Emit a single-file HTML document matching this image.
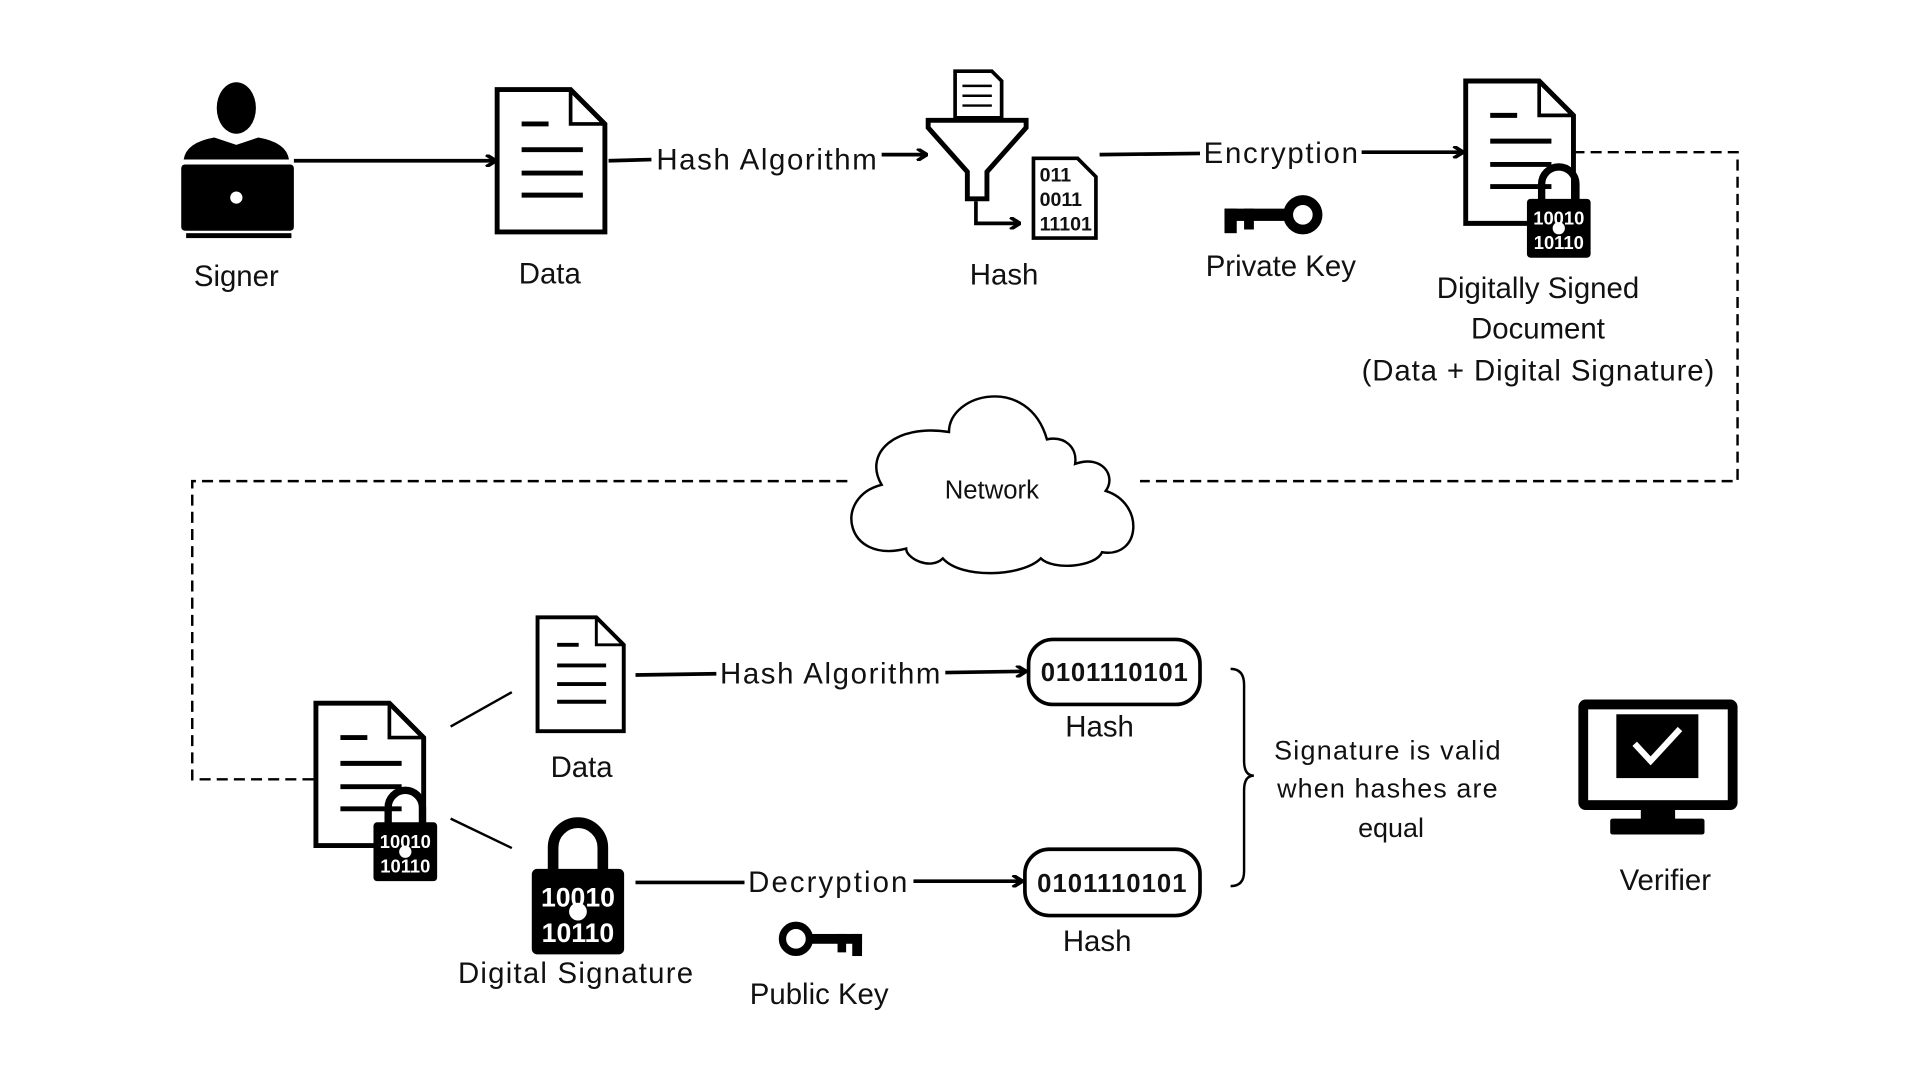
<!DOCTYPE html>
<html><head><meta charset="utf-8"><style>
html,body{margin:0;padding:0;background:#fff;overflow:hidden}
svg{display:block}
text{font-family:"Liberation Sans",sans-serif;fill:#111}
</style></head><body>
<svg width="1920" height="1080" viewBox="0 0 1568 880" preserveAspectRatio="none" xmlns="http://www.w3.org/2000/svg">
<defs>
<marker id="ah" markerWidth="10" markerHeight="10" refX="8" refY="5" orient="auto" markerUnits="userSpaceOnUse">
<path d="M1,0 L9,5 L1,10" fill="none" stroke="#000" stroke-width="3"/>
</marker>
<g id="lock">
<path d="M-14,2 V-12 A14,14 0 0 1 14,-12 V2" fill="none" stroke="#000" stroke-width="6"/>
<rect x="-26" y="0" width="52" height="48" rx="3" fill="#000"/>
<text x="0" y="21" text-anchor="middle" font-size="15" font-weight="bold" style="fill:#fff">10010</text>
<text x="0" y="41" text-anchor="middle" font-size="15" font-weight="bold" style="fill:#fff">10110</text>
<circle cx="0" cy="24" r="5" fill="#fff"/>
</g>
<g id="doc">
<path d="M0,0 H60 L88,28 V116 H0 Z" fill="#fff" stroke="#000" stroke-width="4"/>
<path d="M60,0 V28 H88" fill="none" stroke="#000" stroke-width="3"/>
<path d="M20,28 H42 M20,49 H70 M20,68 H70 M20,86 H70" stroke="#000" stroke-width="4"/>
</g>
</defs>

<ellipse cx="193" cy="88" rx="16" ry="21" fill="#000"/>
<path d="M150,130 Q152,116 175,112 L193,118 L211,112 Q234,116 236,130 Z" fill="#000"/>
<rect x="148" y="134" width="92" height="54" rx="3" fill="#000"/>
<rect x="152" y="190" width="86" height="4" fill="#000"/>
<circle cx="193" cy="161" r="5" fill="#fff"/>
<text x="193" y="233" text-anchor="middle" font-size="24">Signer</text>
<line x1="240" y1="131" x2="404" y2="131" stroke="#000" stroke-width="3" marker-end="url(#ah)"/>

<use href="#doc" x="406" y="73"/>
<text x="449" y="231" text-anchor="middle" font-size="24">Data</text>
<line x1="497" y1="131" x2="532" y2="130" stroke="#000" stroke-width="3"/>
<text x="626" y="138" text-anchor="middle" font-size="24" textLength="180">Hash Algorithm</text>
<line x1="720" y1="126" x2="756" y2="126" stroke="#000" stroke-width="3" marker-end="url(#ah)"/>

<path d="M780,58 H810 L818,66 V96 H780 Z" fill="#fff" stroke="#000" stroke-width="3"/>
<path d="M786,70 H810 M786,78 H810 M786,86 H810" stroke="#000" stroke-width="2"/>
<path d="M758,98 H838 V104 L806,140 V162 H790 V140 L758,104 Z" fill="#fff" stroke="#000" stroke-width="4"/>
<path d="M797,164 V182 H832" fill="none" stroke="#000" stroke-width="3" marker-end="url(#ah)"/>
<path d="M844,129 H880 L895,144 V194 H844 Z" fill="#fff" stroke="#000" stroke-width="3"/>
<text x="849" y="148" font-size="16" font-weight="bold">011</text>
<text x="849" y="168" font-size="16" font-weight="bold">0011</text>
<text x="849" y="188" font-size="16" font-weight="bold">11101</text>
<text x="820" y="232" text-anchor="middle" font-size="24">Hash</text>
<line x1="898" y1="126" x2="980" y2="125" stroke="#000" stroke-width="3"/>
<text x="1046" y="133" text-anchor="middle" font-size="24" textLength="126">Encryption</text>
<line x1="1112" y1="124" x2="1194" y2="124" stroke="#000" stroke-width="3" marker-end="url(#ah)"/>

<circle cx="1064" cy="175" r="12" fill="none" stroke="#000" stroke-width="8"/>
<rect x="1000" y="170" width="54" height="10" fill="#000"/>
<rect x="1000" y="170" width="10" height="20" fill="#000"/>
<rect x="1016" y="170" width="8" height="17" fill="#000"/>
<text x="1046" y="225" text-anchor="middle" font-size="24">Private Key</text>

<use href="#doc" x="1197" y="66"/>
<use href="#lock" transform="translate(1273,162)"/>
<text x="1256" y="243" text-anchor="middle" font-size="24">Digitally Signed</text>
<text x="1256" y="276" text-anchor="middle" font-size="24">Document</text>
<text x="1256" y="310" text-anchor="middle" font-size="24" textLength="288">(Data + Digital Signature)</text>

<path d="M1285,124 H1419 V392 H931" fill="none" stroke="#000" stroke-width="2" stroke-dasharray="9,5"/>
<path d="M692,392 H157 V635 H258" fill="none" stroke="#000" stroke-width="2" stroke-dasharray="9,5"/>

<path d="M720,395 C705,370 730,345 775,352 C775,320 840,305 855,358 C870,355 880,365 878,378 C900,370 912,388 903,400 C935,410 932,455 900,450 C895,462 860,465 850,455 C835,470 785,472 770,455 C760,465 740,455 740,447 C690,460 680,405 720,395 Z" fill="#fff" stroke="#000" stroke-width="2"/>
<text x="810" y="406" text-anchor="middle" font-size="21">Network</text>

<use href="#doc" x="258" y="573"/>
<use href="#lock" transform="translate(331,670)"/>
<line x1="368" y1="592" x2="418" y2="564" stroke="#000" stroke-width="2"/>
<line x1="368" y1="667" x2="418" y2="691" stroke="#000" stroke-width="2"/>

<g transform="translate(439,503) scale(0.8)"><use href="#doc"/></g>
<text x="475" y="633" text-anchor="middle" font-size="24">Data</text>
<line x1="519" y1="550" x2="585" y2="549" stroke="#000" stroke-width="3"/>
<text x="678" y="557" text-anchor="middle" font-size="24" textLength="180">Hash Algorithm</text>
<line x1="772" y1="548" x2="837" y2="547" stroke="#000" stroke-width="3" marker-end="url(#ah)"/>
<rect x="840" y="521" width="140" height="53" rx="20" fill="#fff" stroke="#000" stroke-width="3"/>
<text x="910" y="555" text-anchor="middle" font-size="21" font-weight="bold" textLength="120">0101110101</text>
<text x="898" y="600" text-anchor="middle" font-size="24">Hash</text>

<g transform="translate(472,708) scale(1.45)"><use href="#lock"/></g>
<text x="470" y="801" text-anchor="middle" font-size="24" textLength="192">Digital Signature</text>
<line x1="519" y1="719" x2="608" y2="719" stroke="#000" stroke-width="3"/>
<text x="676" y="727" text-anchor="middle" font-size="24" textLength="130">Decryption</text>
<line x1="746" y1="718" x2="834" y2="718" stroke="#000" stroke-width="3" marker-end="url(#ah)"/>
<rect x="837" y="692" width="143" height="54" rx="20" fill="#fff" stroke="#000" stroke-width="3"/>
<text x="908" y="727" text-anchor="middle" font-size="21" font-weight="bold" textLength="122">0101110101</text>
<text x="896" y="775" text-anchor="middle" font-size="24">Hash</text>

<circle cx="650" cy="765" r="11" fill="none" stroke="#000" stroke-width="6"/>
<rect x="660" y="761" width="44" height="8" fill="#000"/>
<rect x="696" y="761" width="8" height="18" fill="#000"/>
<rect x="684" y="761" width="7" height="15" fill="#000"/>
<text x="669" y="818" text-anchor="middle" font-size="24">Public Key</text>

<path d="M1005,545 Q1016,545 1016,558 V620 Q1016,632 1024,632 Q1016,632 1016,644 V710 Q1016,722 1005,722" fill="none" stroke="#000" stroke-width="2"/>
<text x="1133" y="619" text-anchor="middle" font-size="22" textLength="185">Signature is valid</text>
<text x="1133" y="650" text-anchor="middle" font-size="22" textLength="180">when hashes are</text>
<text x="1136" y="682" text-anchor="middle" font-size="22">equal</text>

<rect x="1289" y="570" width="130" height="90" rx="6" fill="#000"/>
<rect x="1297" y="578" width="114" height="74" fill="#fff"/>
<rect x="1320" y="582" width="67" height="52" fill="#000"/>
<path d="M1335,606 L1348,620 L1372,594" fill="none" stroke="#fff" stroke-width="5"/>
<rect x="1340" y="660" width="28" height="8" fill="#000"/>
<rect x="1315" y="667" width="77" height="13" rx="2" fill="#000"/>
<text x="1360" y="725" text-anchor="middle" font-size="24">Verifier</text>
</svg>
</body></html>
